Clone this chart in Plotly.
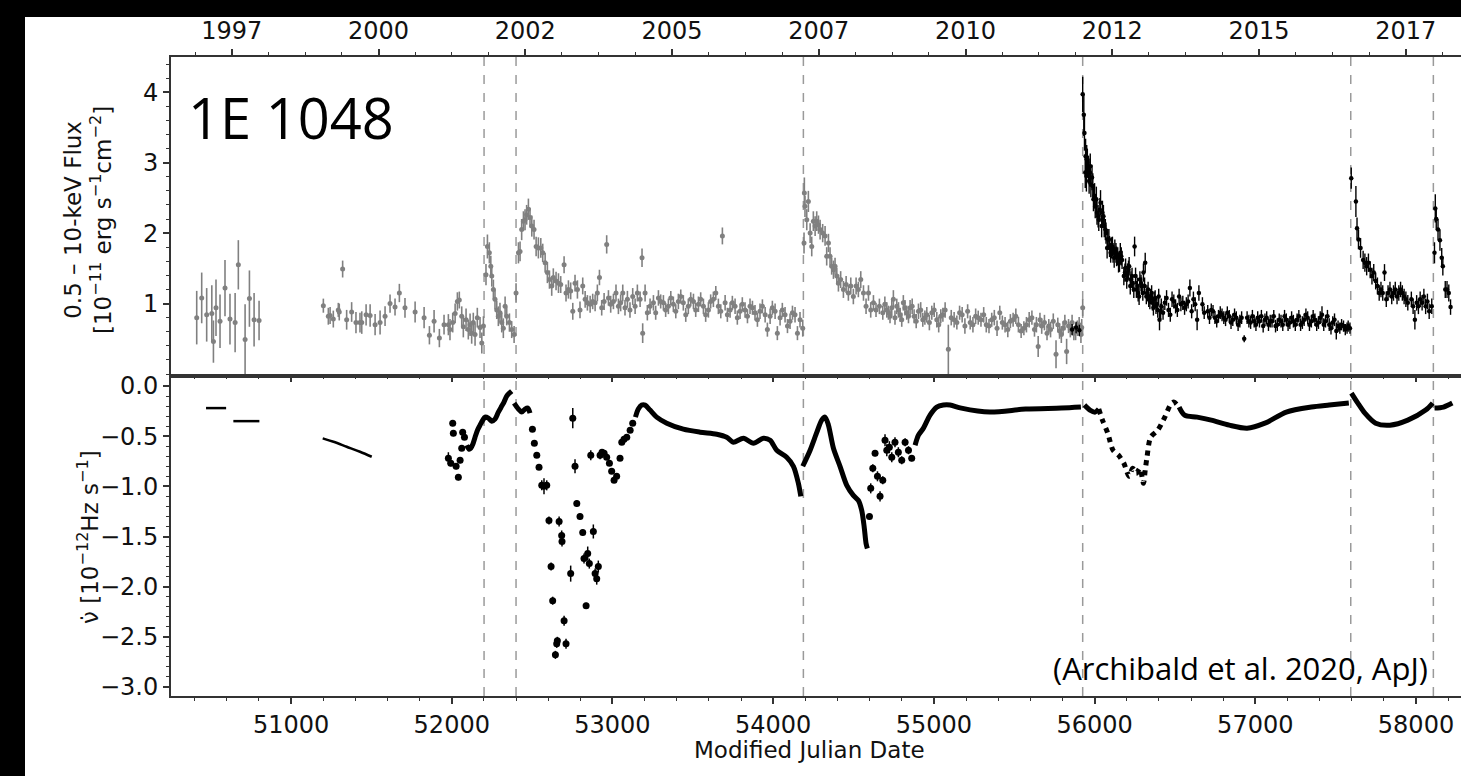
import plotly.graph_objects as go

# ---------------- data ----------------
# glitch / outburst epochs (MJD)
event_mjd = [52201, 52400, 54188, 55926, 57594, 58108]

# top axis: calendar-year ticks (decimal years) and their labels
year_tick_years = [1997.5, 2000.0, 2002.5, 2005.0, 2007.5, 2010.0, 2012.5, 2015.0, 2017.5]
year_tick_labels = ["1997", "2000", "2002", "2005", "2007", "2010", "2012", "2015", "2017"]

# RXTE-era flux (grey)
rxte_mjd = [50413, 50444, 50475, 50507, 50517, 50533, 50558, 50589, 50620, 50652, 50672, 50714, 50741, 50770, 50801,
            51201, 51232, 51243, 51263, 51294, 51300, 51321, 51346, 51377, 51404, 51429, 51440, 51467, 51492, 51523,
            51554, 51585, 51616, 51647, 51674, 51709, 51772, 51828, 51861, 51890, 51923, 51952, 51979, 51989, 52006,
            52021, 52035, 52047, 52062, 52072, 52089, 52103, 52114, 52124, 52134, 52145, 52159, 52176, 52187, 52197,
            52213, 52222, 52234, 52243, 52249, 52259, 52269, 52280, 52290, 52300, 52311, 52321, 52332, 52342, 52359,
            52373, 52388,
            52400, 52415, 52425, 52435, 52446, 52456, 52466, 52477, 52487, 52498, 52512, 52525, 52539, 52554, 52566,
            52581, 52595, 52608, 52622, 52632, 52649, 52664, 52678, 52699, 52711, 52726, 52740, 52753, 52767, 52782,
            52798, 52815, 52830, 52844, 52861, 52877, 52892, 52906, 52919, 52933, 52948, 52964, 52975, 52989, 53006,
            53022, 53037, 53051, 53064, 53078, 53093, 53109, 53126, 53141, 53155, 53172, 53184, 53188, 53203, 53217,
            53234, 53255, 53269, 53286, 53300, 53317, 53331, 53348, 53363, 53379, 53394, 53410, 53425, 53441, 53456,
            53472, 53487, 53504, 53518, 53535, 53549, 53566, 53580, 53597, 53611, 53628, 53643, 53659, 53674, 53684,
            53701, 53715, 53732, 53746, 53763, 53777, 53794, 53808, 53825, 53840, 53856, 53871, 53887, 53902, 53918,
            53933, 53950, 53964, 53981, 53995, 54012, 54026, 54043, 54057, 54074, 54089, 54105, 54120, 54136, 54151,
            54167, 54184,
            54192, 54194, 54198, 54209, 54219, 54230, 54240, 54250, 54261, 54271, 54282, 54292, 54308, 54323, 54333,
            54344, 54354, 54364, 54375, 54385, 54396, 54406, 54420, 54437, 54454, 54468, 54483, 54499, 54516, 54530,
            54545, 54562, 54578, 54593, 54607, 54624, 54640, 54661, 54682, 54707, 54727, 54748, 54769, 54790, 54810,
            54831, 54852, 54877, 54904, 54931, 54956, 54987, 55018, 55043, 55070, 55090, 55126, 55160, 55193, 55226,
            55260, 55293, 55326, 55360, 55393, 55426, 55460, 55493, 55526, 55560, 55593, 55626, 55649, 55671, 55704,
            55726, 55760, 55782, 55804, 55826, 55849, 55871, 55893, 55915, 55926]
rxte_flux = [0.80, 1.08, 0.84, 0.86, 0.46, 0.94, 0.75, 1.22, 0.78, 0.73, 1.55, 0.49, 1.07, 0.77, 0.76,
             0.97, 0.82, 0.83, 0.78, 0.91, 0.88, 1.49, 0.77, 0.88, 0.73, 0.73, 0.73, 0.84, 0.83, 0.70,
             0.73, 0.82, 1.00, 0.95, 1.15, 0.94, 0.88, 0.80, 0.55, 0.75, 0.51, 0.70, 0.70, 0.63, 0.73,
             0.86, 1.03, 1.05, 0.82, 0.67, 0.77, 0.63, 0.70, 0.58, 0.73, 0.56, 0.80, 0.66, 0.44, 0.68,
             1.41, 1.81, 1.72, 1.53, 1.39, 1.20, 1.06, 0.91, 0.82, 0.87, 0.73, 0.65, 0.96, 0.82, 0.73,
             0.63, 0.56,
             1.15, 1.72, 1.74, 2.05, 2.17, 2.19, 2.26, 2.34, 2.22, 2.10, 2.05, 1.81, 1.79, 1.79, 1.72,
             1.58, 1.44, 1.34, 1.25, 1.37, 1.32, 1.29, 1.27, 1.55, 1.15, 1.20, 1.18, 0.89, 1.29, 1.20,
             0.91, 1.25, 1.06, 1.01, 0.99, 1.03, 1.01, 1.15, 1.37, 0.94, 1.03, 1.84, 1.08, 0.99, 1.03,
             1.15, 0.96, 1.01, 1.15, 0.94, 1.06, 0.91, 1.10, 0.96, 1.15, 1.06, 1.65, 0.58, 1.15, 0.87,
             0.96, 1.01, 0.87, 1.08, 1.03, 1.01, 0.91, 0.96, 1.08, 0.99, 0.89, 1.03, 1.10, 1.01, 0.84,
             0.96, 1.06, 1.03, 0.91, 0.99, 1.06, 0.96, 0.84, 0.91, 1.03, 1.06, 1.15, 0.96, 0.89, 1.96,
             1.01, 0.84, 0.91, 1.01, 0.96, 0.80, 0.89, 0.99, 0.91, 0.82, 0.96, 0.94, 0.87, 0.77, 0.89,
             0.96, 0.84, 0.63, 0.82, 0.94, 0.89, 0.58, 0.80, 0.91, 0.84, 0.68, 0.75, 0.87, 0.84, 0.58,
             0.77, 0.65,
             1.86, 2.57, 2.38, 2.19, 2.45, 2.00, 1.81, 2.17, 2.10, 2.17, 2.12, 2.05, 2.00, 1.96, 1.67,
             1.86, 1.67, 1.53, 1.48, 1.53, 1.39, 1.29, 1.34, 1.20, 1.27, 1.15, 1.25, 1.10, 1.25, 1.20,
             1.34, 1.15, 0.96, 1.15, 0.91, 1.01, 0.91, 0.96, 0.87, 0.91, 0.82, 1.06, 0.96, 0.84, 1.01,
             0.87, 0.94, 0.82, 0.89, 0.77, 0.84, 0.87, 0.77, 0.82, 0.91, 0.35, 0.77, 0.87, 0.68, 0.73,
             0.82, 0.77, 0.70, 0.77, 0.65, 0.73, 0.63, 0.77, 0.70, 0.65, 0.77, 0.63, 0.39, 0.68, 0.58,
             0.63, 0.28, 0.61, 0.65, 0.32, 0.63, 0.58, 0.65, 0.56, 0.94]
rxte_err = [0.38, 0.36, 0.38, 0.40, 0.30, 0.40, 0.38, 0.40, 0.36, 0.42, 0.35, 0.50, 0.40, 0.38, 0.28,
            0.10, 0.12, 0.12, 0.12, 0.10, 0.12, 0.12, 0.14, 0.14, 0.15, 0.14, 0.16, 0.15, 0.16, 0.15,
            0.17, 0.14, 0.13, 0.12, 0.13, 0.14, 0.15, 0.15, 0.13, 0.16, 0.13, 0.14, 0.15, 0.15, 0.14,
            0.14, 0.13, 0.12, 0.14, 0.15, 0.16, 0.14, 0.16, 0.15, 0.14, 0.16, 0.14, 0.15, 0.15, 0.14,
            0.15, 0.17, 0.15, 0.15, 0.15, 0.14, 0.14, 0.13, 0.14, 0.14, 0.14, 0.14, 0.14, 0.13, 0.13,
            0.12, 0.12,
            0.14, 0.15, 0.14, 0.15, 0.14, 0.15, 0.14, 0.15, 0.14, 0.15, 0.14, 0.14, 0.15, 0.14, 0.13,
            0.14, 0.15, 0.13, 0.14, 0.13, 0.13, 0.14, 0.12, 0.12, 0.12, 0.13, 0.12, 0.12, 0.12, 0.13,
            0.12, 0.12, 0.12, 0.11, 0.12, 0.11, 0.12, 0.12, 0.11, 0.11, 0.12, 0.13, 0.11, 0.12, 0.11,
            0.12, 0.11, 0.12, 0.12, 0.11, 0.12, 0.11, 0.12, 0.11, 0.12, 0.11, 0.13, 0.14, 0.12, 0.11,
            0.11, 0.11, 0.10, 0.11, 0.10, 0.11, 0.10, 0.11, 0.10, 0.11, 0.10, 0.11, 0.10, 0.11, 0.10,
            0.11, 0.10, 0.11, 0.10, 0.11, 0.10, 0.11, 0.10, 0.11, 0.10, 0.11, 0.10, 0.11, 0.10, 0.12,
            0.11, 0.10, 0.11, 0.10, 0.11, 0.10, 0.11, 0.10, 0.11, 0.10, 0.11, 0.10, 0.11, 0.10, 0.11,
            0.10, 0.11, 0.10, 0.11, 0.10, 0.11, 0.10, 0.11, 0.10, 0.11, 0.10, 0.11, 0.10, 0.11, 0.10,
            0.11, 0.12,
            0.15, 0.22, 0.15, 0.15, 0.15, 0.14, 0.14, 0.14, 0.14, 0.14, 0.13, 0.14, 0.13, 0.14, 0.13,
            0.13, 0.13, 0.12, 0.13, 0.12, 0.12, 0.12, 0.12, 0.12, 0.12, 0.11, 0.12, 0.11, 0.12, 0.11,
            0.12, 0.11, 0.11, 0.11, 0.11, 0.11, 0.10, 0.11, 0.10, 0.11, 0.10, 0.13, 0.11, 0.10, 0.11,
            0.10, 0.11, 0.10, 0.11, 0.10, 0.11, 0.10, 0.11, 0.10, 0.11, 0.35, 0.11, 0.10, 0.11, 0.10,
            0.11, 0.10, 0.11, 0.10, 0.11, 0.10, 0.11, 0.10, 0.11, 0.10, 0.11, 0.10, 0.15, 0.11, 0.10,
            0.11, 0.20, 0.11, 0.10, 0.18, 0.11, 0.10, 0.11, 0.12, 0.12]

# additional RXTE points filling the 2008-2011 stretch
rxte2_mjd = [54695, 54717, 54738, 54758, 54780, 54800, 54820, 54842, 54865, 54890, 54918, 54944, 54972, 55002,
             55030, 55056, 55108, 55143, 55176, 55210, 55243, 55276, 55310, 55343, 55376, 55410, 55443, 55476,
             55510, 55543, 55576, 55610, 55638, 55660, 55688, 55715, 55743, 55771, 55793, 55815, 55838, 55860,
             55882, 55904, 55920]
rxte2_flux = [0.99, 0.87, 0.94, 0.80, 0.91, 0.77, 0.94, 0.82, 0.96, 0.75, 0.91, 0.80, 0.73, 0.91,
              0.70, 0.84, 0.80, 0.73, 0.84, 0.89, 0.70, 0.80, 0.84, 0.68, 0.80, 0.87, 0.70, 0.75,
              0.82, 0.61, 0.70, 0.80, 0.70, 0.77, 0.73, 0.68, 0.75, 0.70, 0.56, 0.73, 0.68, 0.73,
              0.60, 0.70, 0.66]
rxte2_err = [0.11, 0.10, 0.11, 0.10, 0.11, 0.10, 0.11, 0.10, 0.11, 0.10, 0.11, 0.10, 0.11, 0.10,
             0.11, 0.10, 0.11, 0.10, 0.11, 0.10, 0.11, 0.10, 0.11, 0.10, 0.11, 0.10, 0.11, 0.10,
             0.11, 0.10, 0.11, 0.10, 0.11, 0.10, 0.11, 0.10, 0.11, 0.10, 0.12, 0.11, 0.10, 0.11,
             0.12, 0.11, 0.12]

# Swift-era flux (black)
swift_mjd = [55860, 55885, 55905, 55926, 55933, 55937, 55942, 55944, 55949, 55951, 55955, 55962, 55966, 55971, 55973,
             55977, 55984, 55989, 55993, 56000, 56004, 56011, 56015, 56022, 56026, 56033, 56037, 56044, 56049, 56055,
             56060, 56067, 56071, 56078, 56082, 56089, 56093, 56100, 56104, 56111, 56115, 56122, 56126, 56133, 56137,
             56144, 56149, 56155, 56160, 56166, 56171, 56182, 56189, 56193, 56200, 56204, 56211, 56215, 56222, 56226,
             56233, 56237, 56244, 56249, 56255, 56260, 56266, 56271, 56277, 56282, 56289, 56293, 56300, 56304, 56311,
             56315, 56322, 56326, 56333, 56337, 56344, 56349, 56355, 56360, 56366, 56371, 56377, 56382, 56388, 56393,
             56399, 56404, 56411, 56415, 56426, 56437, 56448, 56460, 56471, 56482, 56493, 56504, 56515, 56526, 56537,
             56549, 56560, 56571, 56582, 56593, 56604, 56615, 56626, 56638, 56649, 56671, 56682, 56704, 56715, 56726,
             56737, 56749, 56760, 56771, 56782, 56793, 56804, 56815, 56826, 56838, 56849, 56860, 56871, 56882, 56893,
             56904, 56915, 56931, 56949, 56960, 56971, 56982, 56993, 57004, 57015, 57026, 57038, 57049, 57060, 57071,
             57082, 57093, 57104, 57115, 57126, 57137, 57149, 57160, 57171, 57182, 57193, 57204, 57215, 57226, 57237,
             57249, 57260, 57271, 57282, 57293, 57304, 57315, 57326, 57337, 57349, 57360, 57371, 57382, 57393, 57404,
             57415, 57426, 57437, 57449, 57460, 57471, 57482, 57493, 57504, 57515, 57526, 57537, 57549, 57560, 57571,
             57578, 57589,
             57597, 57626, 57633, 57642, 57655, 57671, 57682, 57693, 57704, 57715, 57726, 57737, 57749, 57760, 57771,
             57782, 57793, 57804, 57815, 57826, 57838, 57849, 57860, 57871, 57882, 57893, 57904, 57915, 57926, 57937,
             57949, 57971, 57982, 57993, 58004, 58015, 58026, 58038, 58049, 58060, 58071, 58082, 58098,
             58115, 58120, 58126, 58137, 58149, 58160, 58167, 58182, 58193, 58204, 58215]
swift_flux = [0.63, 0.66, 0.62, 3.97, 3.68, 3.42, 2.86, 3.09, 2.81, 3.05, 3.00, 2.90, 2.74, 2.86, 2.95,
              2.69, 2.79, 2.67, 2.48, 2.53, 2.38, 2.48, 2.29, 2.24, 2.19, 2.33, 2.43, 2.10, 2.29, 2.24,
              2.10, 2.05, 2.00, 1.79, 1.91, 1.91, 1.81, 1.72, 1.79, 1.81, 1.72, 1.65, 1.77, 1.72, 1.67,
              1.67, 1.58, 1.58, 1.72, 1.67, 1.62, 1.39, 1.44, 1.51, 1.34, 1.44, 1.48, 1.53, 1.25, 1.34,
              1.39, 1.29, 1.20, 1.81, 1.39, 1.20, 1.25, 1.15, 1.10, 1.34, 1.29, 1.25, 1.15, 1.44, 1.25,
              1.58, 1.10, 1.15, 1.20, 1.06, 1.03, 1.10, 1.15, 1.01, 0.94, 1.06, 1.08, 0.96, 0.99, 0.91,
              1.10, 0.77, 0.89, 0.96, 0.87, 1.01, 1.08, 0.91, 0.84, 1.06, 1.03, 0.96, 0.91, 1.10, 0.99,
              1.01, 0.94, 0.99, 1.03, 1.22, 0.89, 1.06, 0.99, 0.77, 1.15, 0.99, 0.87, 0.89, 0.80, 0.91,
              0.89, 0.80, 0.75, 0.82, 0.87, 0.84, 0.80, 0.77, 0.87, 0.82, 0.73, 0.77, 0.84, 0.80, 0.70,
              0.75, 0.80, 0.50, 0.80, 0.75, 0.73, 0.82, 0.75, 0.70, 0.80, 0.75, 0.82, 0.68, 0.77, 0.80,
              0.70, 0.75, 0.75, 0.82, 0.68, 0.70, 0.77, 0.75, 0.70, 0.82, 0.77, 0.70, 0.73, 0.80, 0.75,
              0.70, 0.77, 0.82, 0.70, 0.73, 0.77, 0.84, 0.80, 0.70, 0.75, 0.82, 0.77, 0.70, 0.73, 0.80,
              0.84, 0.70, 0.75, 0.82, 0.70, 0.65, 0.73, 0.77, 0.61, 0.68, 0.65, 0.70, 0.68, 0.63, 0.65,
              0.68, 0.65,
              2.78, 2.45, 2.07, 1.91, 1.79, 1.62, 1.58, 1.53, 1.58, 1.48, 1.39, 1.44, 1.32, 1.25, 1.15,
              1.20, 1.15, 1.44, 1.06, 1.15, 1.20, 1.10, 1.15, 1.20, 1.10, 1.15, 1.20, 1.15, 1.10, 1.06,
              1.01, 1.06, 0.96, 0.77, 1.01, 0.96, 1.06, 1.01, 1.10, 0.96, 1.03, 0.89, 0.96,
              1.72, 2.35, 2.20, 2.05, 1.90, 1.65, 1.53, 1.20, 1.20, 1.15, 0.95]
swift_err = [0.08, 0.08, 0.08, 0.25, 0.30, 0.25, 0.22, 0.25, 0.22, 0.20, 0.20, 0.20, 0.18, 0.20, 0.18,
             0.18, 0.18, 0.18, 0.17, 0.18, 0.17, 0.18, 0.17, 0.16, 0.16, 0.17, 0.18, 0.16, 0.17, 0.16,
             0.16, 0.15, 0.15, 0.15, 0.15, 0.15, 0.15, 0.14, 0.15, 0.14, 0.14, 0.14, 0.14, 0.14, 0.14,
             0.13, 0.14, 0.13, 0.14, 0.13, 0.13, 0.13, 0.13, 0.13, 0.13, 0.13, 0.13, 0.13, 0.12, 0.12,
             0.12, 0.12, 0.12, 0.14, 0.12, 0.12, 0.12, 0.12, 0.12, 0.12, 0.12, 0.12, 0.11, 0.13, 0.12,
             0.14, 0.11, 0.11, 0.11, 0.11, 0.11, 0.11, 0.11, 0.11, 0.11, 0.11, 0.11, 0.11, 0.11, 0.11,
             0.11, 0.15, 0.11, 0.11, 0.10, 0.10, 0.11, 0.10, 0.10, 0.11, 0.10, 0.10, 0.10, 0.11, 0.10,
             0.10, 0.10, 0.10, 0.10, 0.12, 0.10, 0.11, 0.10, 0.15, 0.11, 0.10, 0.09, 0.09, 0.09, 0.09,
             0.09, 0.09, 0.09, 0.09, 0.09, 0.09, 0.09, 0.09, 0.09, 0.09, 0.09, 0.09, 0.09, 0.09, 0.09,
             0.09, 0.09, 0.05, 0.09, 0.09, 0.09, 0.09, 0.09, 0.09, 0.09, 0.09, 0.09, 0.09, 0.09, 0.09,
             0.09, 0.09, 0.09, 0.09, 0.09, 0.09, 0.09, 0.09, 0.09, 0.09, 0.09, 0.09, 0.09, 0.09, 0.09,
             0.09, 0.09, 0.09, 0.09, 0.09, 0.09, 0.09, 0.09, 0.09, 0.09, 0.09, 0.09, 0.09, 0.09, 0.09,
             0.12, 0.09, 0.09, 0.09, 0.09, 0.09, 0.09, 0.09, 0.12, 0.08, 0.08, 0.08, 0.08, 0.08, 0.08,
             0.08, 0.08,
             0.15, 0.22, 0.15, 0.14, 0.14, 0.13, 0.13, 0.13, 0.13, 0.12, 0.12, 0.12, 0.12, 0.12, 0.11,
             0.11, 0.11, 0.12, 0.11, 0.11, 0.11, 0.11, 0.11, 0.11, 0.11, 0.11, 0.11, 0.11, 0.11, 0.11,
             0.11, 0.11, 0.11, 0.14, 0.11, 0.11, 0.11, 0.11, 0.11, 0.11, 0.11, 0.11, 0.11,
             0.15, 0.20, 0.16, 0.15, 0.15, 0.14, 0.13, 0.12, 0.12, 0.12, 0.11]

# spin-down rate, early short phase-connected segments (solid lines)
nudot_seg1_mjd = [50471, 50596]
nudot_seg1_val = [-0.22, -0.22]
nudot_seg2_mjd = [50641, 50803]
nudot_seg2_val = [-0.35, -0.35]
nudot_seg3_mjd = [51197, 51264, 51346, 51429, 51502]
nudot_seg3_val = [-0.522, -0.556, -0.605, -0.655, -0.705]

# spin-down rate, densely sampled stretches (appear as thick curves)
nudot_dense_mjd = [52093, 52108, 52118, 52131, 52145, 52160, 52176, 52193, 52207, 52228, 52249, 52269, 52290,
                   52311, 52325, 52342, 52359, 52373, None,
                   52388, 52415, 52435, 52456, 52473, 52487, None,
                   53143, 53161, 53182, 53203, 53234, 53275, 53338, 53441, 53545, 53649, 53711, 53752, 53815,
                   53877, 53939, 53981, 54022, 54084, 54126, 54157, 54172, None,
                   54184, 54230, 54272, 54302, 54323, 54344, 54375, 54416, 54458, 54499, 54530, 54551, 54566,
                   54578, 54586, None,
                   54883, 54904, 54935, 54976, 55018, 55059, 55101, 55171, 55348, 55571, 55793, 55915, None,
                   55937, 55971, 56004, 56026, None,
                   56526, 56560, 56638, 56726, 56838, 56949, 57060, 57193, 57349, 57460, 57582, None,
                   57598, 57638, 57682, 57749, 57838, 57949, 58060, 58104, None,
                   58115, 58171, 58226]
nudot_dense_val = [-0.59, -0.63, -0.62, -0.58, -0.51, -0.44, -0.39, -0.34, -0.31, -0.32, -0.35, -0.33, -0.26,
                   -0.20, -0.16, -0.10, -0.07, -0.05, None,
                   -0.17, -0.23, -0.26, -0.23, -0.22, -0.27, None,
                   -0.31, -0.23, -0.19, -0.19, -0.24, -0.31, -0.37, -0.43, -0.46, -0.48, -0.51, -0.56, -0.52,
                   -0.57, -0.52, -0.54, -0.64, -0.71, -0.80, -0.97, -1.10, None,
                   -0.80, -0.64, -0.46, -0.34, -0.31, -0.39, -0.62, -0.80, -0.99, -1.09, -1.14, -1.24, -1.40,
                   -1.57, -1.62, None,
                   -0.59, -0.49, -0.42, -0.29, -0.21, -0.19, -0.19, -0.22, -0.26, -0.23, -0.22, -0.21, None,
                   -0.19, -0.24, -0.26, -0.23, None,
                   -0.21, -0.29, -0.31, -0.34, -0.39, -0.42, -0.37, -0.26, -0.21, -0.19, -0.17, None,
                   -0.07, -0.17, -0.27, -0.37, -0.39, -0.34, -0.24, -0.17, None,
                   -0.22, -0.21, -0.17]

# spin-down rate, 2012-2013 stretch drawn as a dotted run of points
nudot_dotted_mjd = [56026, 56049, 56082, 56115, 56149, 56182, 56215, 56237, 56260, 56282, 56304, 56315, 56326,
                    56349, 56393, 56437, 56471, 56493, 56526]
nudot_dotted_val = [-0.23, -0.34, -0.47, -0.64, -0.69, -0.77, -0.90, -0.82, -0.87, -0.82, -0.97, -0.84, -0.71,
                    -0.51, -0.44, -0.31, -0.19, -0.16, -0.21]

# spin-down rate, individual measurements with error bars
nudot_pts_mjd = [51979, 51994, 52006, 52010, 52027, 52041, 52052, 52062, 52068, 52079,
                 52502, 52514, 52529, 52543, 52560, 52574, 52591, 52605, 52618, 52628, 52645, 52653, 52657,
                 52668, 52684, 52686, 52699, 52711, 52740, 52753, 52767, 52778, 52798, 52815, 52823, 52836,
                 52846, 52856, 52865, 52881, 52892, 52902, 52912, 52923, 52935, 52948, 52964, 52981, 52995,
                 53010, 53026, 53047, 53058, 53072, 53089, 53110, 53126,
                 54599, 54607, 54620, 54634, 54649, 54665, 54682, 54696, 54707, 54723, 54738, 54758, 54779,
                 54800, 54821, 54842, 54862]
nudot_pts_val = [-0.72, -0.77, -0.37, -0.47, -0.80, -0.91, -0.74, -0.62, -0.46, -0.51,
                 -0.43, -0.57, -0.69, -0.81, -0.99, -1.00, -0.99, -1.34, -1.80, -2.14, -2.68, -2.57, -2.54,
                 -1.35, -1.49, -1.55, -2.34, -2.57, -1.87, -0.32, -0.80, -1.17, -1.30, -1.46, -1.72, -2.19,
                 -1.67, -1.77, -0.69, -1.45, -1.87, -1.92, -1.80, -0.69, -0.66, -0.67, -0.71, -0.77, -0.85,
                 -0.94, -0.90, -0.72, -0.56, -0.53, -0.51, -0.44, -0.37,
                 -1.30, -1.02, -0.82, -0.67, -0.90, -1.10, -0.94, -0.54, -0.64, -0.61, -0.71, -0.56, -0.66,
                 -0.74, -0.56, -0.64, -0.72]
nudot_pts_err = [0.06, 0.03, 0.03, 0.03, 0.03, 0.03, 0.03, 0.02, 0.02, 0.02,
                 0.02, 0.02, 0.02, 0.02, 0.05, 0.08, 0.05, 0.04, 0.04, 0.04, 0.04, 0.04, 0.04,
                 0.05, 0.05, 0.05, 0.05, 0.05, 0.08, 0.10, 0.07, 0.03, 0.03, 0.03, 0.05, 0.03,
                 0.07, 0.05, 0.05, 0.07, 0.05, 0.06, 0.06, 0.04, 0.03, 0.03, 0.02, 0.02, 0.02,
                 0.02, 0.02, 0.02, 0.02, 0.02, 0.02, 0.02, 0.02,
                 0.03, 0.05, 0.04, 0.03, 0.05, 0.05, 0.04, 0.06, 0.06, 0.06, 0.05, 0.05, 0.05,
                 0.04, 0.04, 0.04, 0.03]

# ---------------- figure ----------------
W, H = 1461, 776
ML, MR, MT, MB = 171, 0, 57, 80
PW, PH = W - ML - MR, H - MT - MB


def px_x(px):
    return (px - ML) / PW


def px_y(py):
    return (H - MB - py) / PH


XR = [50253, 58280]
GREY = "#808080"
AX = "#333333"
TICKFONT = dict(family="DejaVu Sans", size=24, color="#111111")


def year_to_mjd(y):
    return 51544.5 + (y - 2000.0) * 365.25


year_tick_mjd = [year_to_mjd(y) for y in year_tick_years]
minor_year_mjd = [year_to_mjd(1995.0 + 0.625 * k) for k in range(40)]

fig = go.Figure()

# flux panel
fig.add_trace(go.Scatter(x=rxte_mjd + rxte2_mjd, y=rxte_flux + rxte2_flux, mode="markers",
                         xaxis="x2", yaxis="y2",
                         marker=dict(color=GREY, size=5),
                         error_y=dict(type="data", array=rxte_err + rxte2_err, color=GREY, thickness=1.6,
                                      width=0),
                         showlegend=False))
fig.add_trace(go.Scatter(x=swift_mjd, y=swift_flux, mode="markers", xaxis="x2", yaxis="y2",
                         marker=dict(color="black", size=4.5),
                         error_y=dict(type="data", array=swift_err, color="black", thickness=1.4, width=0),
                         showlegend=False))
# empty trace bound to the calendar-year axis so that it gets drawn
fig.add_trace(go.Scatter(x=[year_tick_mjd[0]], y=[None], mode="markers", xaxis="x3", yaxis="y2",
                         marker=dict(opacity=0), showlegend=False, hoverinfo="skip"))

# nu-dot panel
for sx, sy in [(nudot_seg1_mjd, nudot_seg1_val), (nudot_seg2_mjd, nudot_seg2_val),
               (nudot_seg3_mjd, nudot_seg3_val)]:
    fig.add_trace(go.Scatter(x=sx, y=sy, mode="lines", xaxis="x", yaxis="y",
                             line=dict(color="black", width=2.5, shape="spline"), showlegend=False))
fig.add_trace(go.Scatter(x=nudot_dense_mjd, y=nudot_dense_val, mode="lines", xaxis="x", yaxis="y",
                         line=dict(color="black", width=5, shape="spline", smoothing=0.8),
                         connectgaps=False, showlegend=False))
fig.add_trace(go.Scatter(x=nudot_dotted_mjd, y=nudot_dotted_val, mode="lines", xaxis="x", yaxis="y",
                         line=dict(color="black", width=5, shape="spline", smoothing=0.8, dash="dot"),
                         showlegend=False))
fig.add_trace(go.Scatter(x=nudot_pts_mjd, y=nudot_pts_val, mode="markers", xaxis="x", yaxis="y",
                         marker=dict(color="black", size=7),
                         error_y=dict(type="data", array=nudot_pts_err, color="black", thickness=1.5, width=0),
                         showlegend=False))

shapes = []
for m in event_mjd:
    shapes.append(dict(type="line", xref="x", yref="paper", x0=m, x1=m, y0=0, y1=1,
                       line=dict(color="#9a9a9a", width=1.5, dash="dash"), layer="below"))
# black frame strips of the original screenshot
shapes.append(dict(type="rect", xref="paper", yref="paper", x0=-0.3, x1=px_x(25), y0=-0.3, y1=1.3,
                   fillcolor="black", line=dict(width=0), layer="above"))
shapes.append(dict(type="rect", xref="paper", yref="paper", x0=-0.3, x1=1.3, y0=px_y(17), y1=1.3,
                   fillcolor="black", line=dict(width=0), layer="above"))

common_x = dict(range=XR, showgrid=False, zeroline=False, showline=True, linecolor=AX, linewidth=2,
                ticks="outside", ticklen=6, tickwidth=1.5, tickcolor=AX,
                tickmode="linear", tick0=0, dtick=1000, tickformat="d",
                minor=dict(ticks="outside", ticklen=3, tickwidth=1.2, tickcolor=AX, dtick=200, tick0=0),
                tickfont=TICKFONT)

annotations = [
    dict(text="1E 1048", xref="paper", yref="paper", x=px_x(186), y=px_y(117), xanchor="left",
         yanchor="middle", showarrow=False, font=dict(family="Open Sans", size=56, color="black")),
    dict(text="(Archibald et al. 2020, ApJ)", xref="paper", yref="paper", x=px_x(1430), y=px_y(668),
         xanchor="right", yanchor="middle", showarrow=False,
         font=dict(family="Open Sans", size=31, color="black")),
    dict(text="0.5 \u2013 10-keV Flux<br>[10<sup>\u221211</sup> erg s<sup>\u22121</sup>cm<sup>\u22122</sup>]",
         xref="paper", yref="paper", x=px_x(88), y=px_y(220), xanchor="center", yanchor="middle",
         textangle=-90, showarrow=False, font=dict(family="DejaVu Sans", size=23, color="#111111")),
    dict(text="\u03bd\u0307 [10<sup>\u221212</sup>Hz s<sup>\u22121</sup>]",
         xref="paper", yref="paper", x=px_x(88), y=px_y(537), xanchor="center", yanchor="middle",
         textangle=-90, showarrow=False, font=dict(family="DejaVu Sans", size=23, color="#111111")),
    dict(text="Modified Julian Date", xref="paper", yref="paper", x=px_x(809), y=px_y(750),
         xanchor="center", yanchor="middle", showarrow=False,
         font=dict(family="DejaVu Sans", size=23, color="#111111")),
]

fig.update_layout(
    width=W, height=H,
    margin=dict(l=ML, r=MR, t=MT, b=MB, pad=0),
    paper_bgcolor="white", plot_bgcolor="rgba(0,0,0,0)",
    showlegend=False,
    xaxis=dict(anchor="y", domain=[0, 1], mirror=True, **common_x),
    xaxis2=dict(anchor="y2", domain=[0, 1], matches="x", showticklabels=False, **common_x),
    xaxis3=dict(anchor="y2", overlaying="x2", side="top", range=XR, autorange=False, showgrid=False,
                zeroline=False,
                showline=True, linecolor=AX, linewidth=2, ticks="outside", ticklen=6, tickwidth=1.5,
                tickcolor=AX, tickmode="array", tickvals=year_tick_mjd, ticktext=year_tick_labels,
                minor=dict(ticks="outside", ticklen=3, tickwidth=1.2, tickcolor=AX, tickmode="array",
                           tickvals=minor_year_mjd),
                tickfont=TICKFONT),
    yaxis=dict(domain=[0, px_y(378)], range=[-3.09, 0.08], anchor="x", showgrid=False, zeroline=False,
               showline=True, linecolor=AX, linewidth=2, ticks="outside", ticklen=6, tickwidth=1.5,
               tickcolor=AX, tickmode="linear", tick0=0, dtick=0.5, tickformat=".1f",
               minor=dict(ticks="outside", ticklen=3, tickwidth=1.2, tickcolor=AX, dtick=0.1, tick0=0),
               tickfont=TICKFONT),
    yaxis2=dict(domain=[px_y(374), 1], range=[0, 4.5], anchor="x2", showgrid=False, zeroline=False,
                showline=True, linecolor=AX, linewidth=2, ticks="outside", ticklen=6, tickwidth=1.5,
                tickcolor=AX, tickmode="array", tickvals=[1, 2, 3, 4],
                minor=dict(ticks="outside", ticklen=3, tickwidth=1.2, tickcolor=AX, dtick=0.2, tick0=0),
                tickfont=TICKFONT),
    shapes=shapes,
    annotations=annotations,
)

fig.write_html("out.html", config={"displayModeBar": False},
               post_script="document.body.style.margin='0';document.body.style.overflow='hidden';")
